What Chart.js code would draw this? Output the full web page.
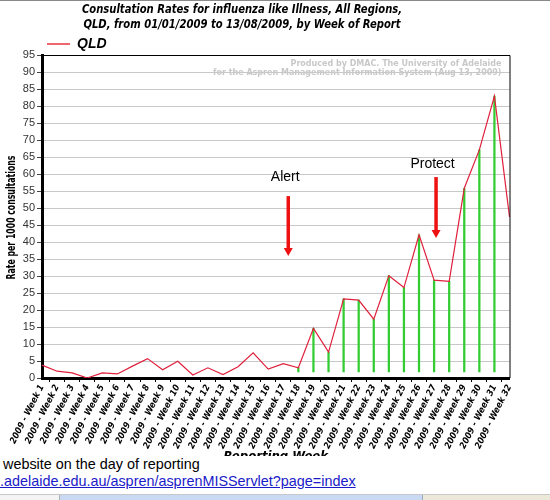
<!DOCTYPE html>
<html>
<head>
<meta charset="utf-8">
<title>Consultation Rates for influenza like Illness, QLD</title>
<script src="https://cdn.jsdelivr.net/npm/chart.js@4.4.1/dist/chart.umd.min.js"></script>
<style>
  html, body { margin: 0; padding: 0; background: #fff; }
  body { width: 550px; height: 500px; position: relative; overflow: hidden; font-family: "Liberation Sans", Arial, sans-serif; }
  #wrap { position: absolute; left: 0; top: 0; width: 550px; height: 456px; overflow: hidden; }
  #topline { position: absolute; left: 0; top: 0; width: 550px; height: 1px; background: #8a8a8a; }
  .txt { position: absolute; left: 3px; font-size: 14.4px; line-height: 17px; white-space: nowrap; color: #000; }
  #note { top: 456px; }
  #link { top: 473px; left: 0; color: #1a1ac8; text-decoration: underline; }
  #bar { position: absolute; left: 0; top: 494px; width: 550px; height: 6px; background: #ece9d8; border-top: 1px solid #c8c8c8; }
  #bar .a { position: absolute; left: 0; top: 0; width: 59px; height: 6px; background: #f4f4f4; border-right: 1px solid #b0b0b0; }
  #bar .b { position: absolute; left: 60px; top: 0; width: 362px; height: 6px; background: #c9d9f3; border-right: 1px solid #9aa8c0; }
</style>
</head>
<body>
<div id="wrap">
  <canvas id="chart" width="550" height="470"></canvas>
  <div id="topline"></div>
</div>
<div class="txt" id="note">website on the day of reporting</div>
<div class="txt" id="link">.adelaide.edu.au/aspren/asprenMISServlet?page=index</div>
<div id="bar"><div class="a"></div><div class="b"></div></div>

<script>
// ── Data ──────────────────────────────────────────────────────
const weekLabels = [
  '2009 - Week 1', '2009 - Week 2', '2009 - Week 3', '2009 - Week 4',
  '2009 - Week 5', '2009 - Week 6', '2009 - Week 7', '2009 - Week 8',
  '2009 - Week 9', '2009 - Week 10', '2009 - Week 11', '2009 - Week 12',
  '2009 - Week 13', '2009 - Week 14', '2009 - Week 15', '2009 - Week 16',
  '2009 - Week 17', '2009 - Week 18', '2009 - Week 19', '2009 - Week 20',
  '2009 - Week 21', '2009 - Week 22', '2009 - Week 23', '2009 - Week 24',
  '2009 - Week 25', '2009 - Week 26', '2009 - Week 27', '2009 - Week 28',
  '2009 - Week 29', '2009 - Week 30', '2009 - Week 31', '2009 - Week 32'
];

// QLD rate per 1000 consultations
const qldRates = [
  3.8, 2.0, 1.5, 0.0, 1.5, 1.2, 3.5, 5.7,
  2.4, 4.9, 0.9, 3.0, 1.0, 3.3, 7.4, 2.6,
  4.2, 3.0, 14.6, 7.6, 23.3, 22.9, 17.3, 30.1,
  26.6, 42.1, 28.8, 28.4, 55.8, 67.1, 82.9, 47.4
];

// green drop lines run from week 18 to week 31
const stemWeeks = [18, 19, 20, 21, 22, 23, 24, 25, 26, 27, 28, 29, 30, 31];
const stemBase = 1.8;

const yTicks = [0, 5, 10, 15, 20, 25, 30, 35, 40, 45, 50, 55, 60, 65, 70, 75, 80, 85, 90, 95];

// arrows: week (1-based, fractional), arrow top / tip and label height in rate units
const notes = [
  { text: 'Alert',   week: 17.33, labelWeek: 17.13, labelAt: 59.1, from: 53.5, to: 35.9 },
  { text: 'Protect', week: 27.13, labelWeek: 26.90, labelAt: 62.9, from: 59.1, to: 41.2 }
];

const stems = weekLabels.map((_, i) =>
  stemWeeks.includes(i + 1) ? [stemBase, qldRates[i]] : null);

// ── Fonts / colours ───────────────────────────────────────────
const narrow = '"DejaVu Sans Condensed", "Liberation Sans Narrow", sans-serif';
const red = '#e0203c';
const green = '#33cc33';

// squeeze a heavy font sideways, like the old bitmap chart font
function squeezedText(ctx, text, x, y, sx, rot) {
  ctx.save();
  ctx.translate(x, y);
  if (rot) ctx.rotate(rot);
  ctx.scale(sx, 1);
  ctx.fillText(text, 0, 0);
  ctx.restore();
}

// ── Extra drawing: title, legend, watermark, arrows, frame ────
const decor = {
  id: 'decor',
  beforeDatasetsDraw(chart) {
    const { ctx, chartArea } = chart;
    ctx.save();
    ctx.fillStyle = '#c8c8c8';
    ctx.font = 'bold 8px "DejaVu Sans", sans-serif';
    ctx.textAlign = 'right';
    ctx.textBaseline = 'middle';
    ctx.fillText('Produced by DMAC. The University of Adelaide', chartArea.right - 8, chartArea.top + 9);
    ctx.fillText('for the Aspren Management Information System (Aug 13, 2009)', chartArea.right - 8, chartArea.top + 18);
    ctx.restore();
  },
  afterDraw(chart) {
    const { ctx, chartArea, scales: { x, y } } = chart;
    ctx.save();

    // title
    ctx.fillStyle = '#000';
    ctx.textAlign = 'center';
    ctx.textBaseline = 'middle';
    ctx.font = 'bold italic 12px ' + narrow;
    squeezedText(ctx, 'Consultation Rates for influenza like Illness, All Regions,', 242, 9.5, 0.93);
    squeezedText(ctx, 'QLD, from 01/01/2009 to 13/08/2009, by Week of Report', 242, 24.5, 0.93);

    // y axis title
    ctx.font = 'bold 12px ' + narrow;
    squeezedText(ctx, 'Rate per 1000 consultations', 12, (chartArea.top + chartArea.bottom) / 2 + 1, 0.72, -Math.PI / 2);

    // legend
    ctx.strokeStyle = '#ee6670';
    ctx.lineWidth = 2;
    ctx.beginPath();
    ctx.moveTo(47, 44);
    ctx.lineTo(70, 44);
    ctx.stroke();
    ctx.textAlign = 'left';
    ctx.font = 'bold italic 14px "Liberation Sans", Arial, sans-serif';
    ctx.fillText('QLD', 77, 44);

    // frame (top and right)
    ctx.strokeStyle = '#000';
    ctx.lineWidth = 1;
    ctx.beginPath();
    ctx.moveTo(chartArea.left, chartArea.top + 0.5);
    ctx.lineTo(chartArea.right + 0.5, chartArea.top + 0.5);
    ctx.lineTo(chartArea.right + 0.5, chartArea.bottom);
    ctx.stroke();

    // arrows
    notes.forEach(n => {
      const px = x.getPixelForValue(n.week - 1);
      const y0 = y.getPixelForValue(n.from);
      const y1 = y.getPixelForValue(n.to);
      ctx.fillStyle = '#000';
      ctx.font = '14px "Liberation Sans", Arial, sans-serif';
      ctx.textAlign = 'center';
      ctx.fillText(n.text, x.getPixelForValue(n.labelWeek - 1), y.getPixelForValue(n.labelAt));
      ctx.strokeStyle = '#ee1111';
      ctx.fillStyle = '#ee1111';
      ctx.lineWidth = 3.5;
      ctx.beginPath();
      ctx.moveTo(px, y0);
      ctx.lineTo(px, y1 - 7);
      ctx.stroke();
      ctx.beginPath();
      ctx.moveTo(px - 4.5, y1 - 8);
      ctx.lineTo(px + 4.5, y1 - 8);
      ctx.lineTo(px, y1);
      ctx.closePath();
      ctx.fill();
    });
    ctx.restore();
  }
};

// ── Chart ─────────────────────────────────────────────────────
new Chart(document.getElementById('chart'), {
  type: 'line',
  data: {
    labels: weekLabels,
    datasets: [
      {
        label: 'QLD',
        data: qldRates,
        borderColor: red,
        borderWidth: 1.2,
        pointRadius: 0,
        tension: 0,
        fill: false,
        order: 0,
      },
      {
        type: 'bar',
        label: 'stems',
        data: stems,
        backgroundColor: green,
        borderWidth: 0,
        barThickness: 1.6,
        order: 1,
      }
    ]
  },
  options: {
    responsive: false,
    animation: false,
    layout: { padding: { top: 55, right: 40.5, bottom: 0, left: 0 } },
    plugins: {
      legend: { display: false },
      title: { display: false },
      tooltip: { enabled: false }
    },
    scales: {
      x: {
        type: 'category',
        offset: false,
        afterFit: s => { s.height = 92; },
        grid: { display: true, drawOnChartArea: false, drawTicks: true, tickLength: 4, tickColor: '#000' },
        border: { display: true, color: '#000', width: 3 },
        ticks: {
          autoSkip: false, minRotation: 63, maxRotation: 63, padding: 1,
          color: '#000', font: { family: narrow, size: 9, style: 'italic', weight: 'bold' }
        },
        title: {
          display: true, text: 'Reporting Week', color: '#000',
          font: { family: narrow, size: 13, style: 'italic', weight: 'bold' },
          padding: { top: 0, bottom: 6 }
        }
      },
      y: {
        min: 0, max: 95,
        afterFit: s => { s.width = 42; },
        afterBuildTicks: s => { s.ticks = yTicks.map(v => ({ value: v })); },
        grid: { color: '#c8c8c8', lineWidth: 1, tickLength: 5, tickColor: '#444' },
        border: { display: true, color: '#000', width: 3 },
        ticks: {
          padding: 2, color: '#333',
          font: { family: '"Liberation Sans", Arial, sans-serif', size: 11 }
        },
        title: { display: false }
      }
    }
  },
  plugins: [decor]
});
</script>
</body>
</html>
